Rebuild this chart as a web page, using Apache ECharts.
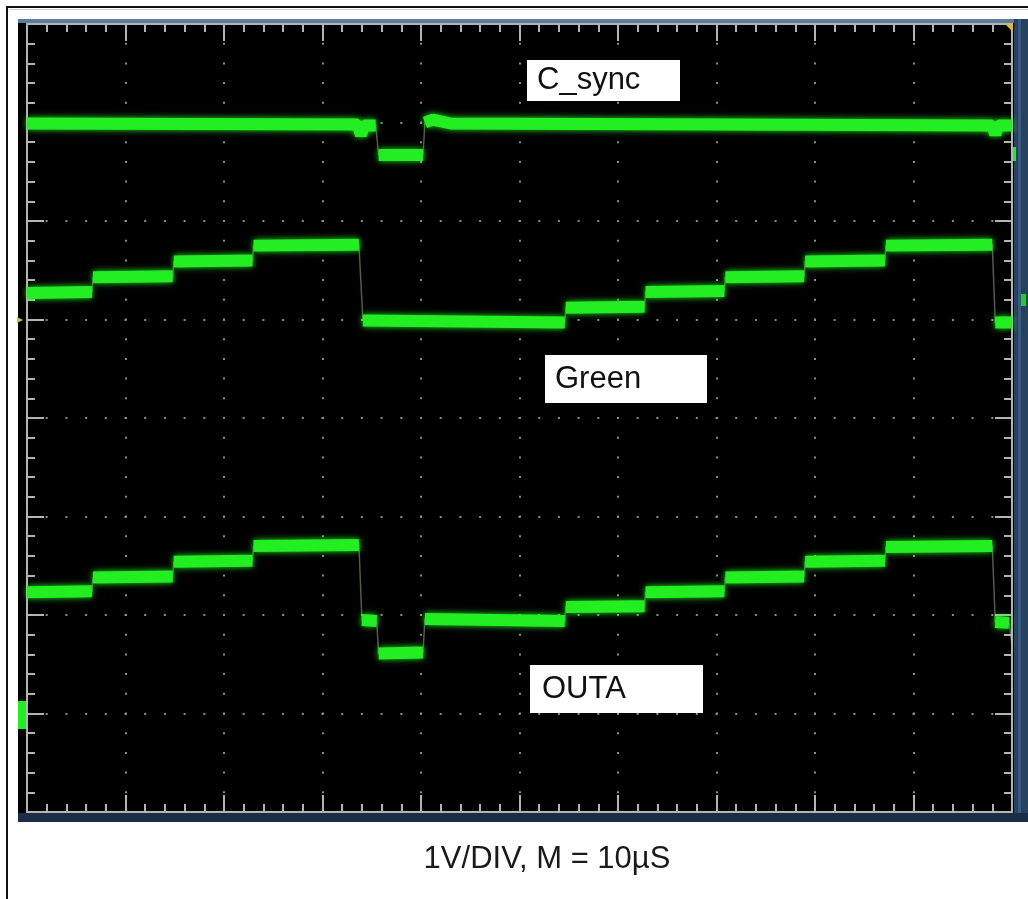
<!DOCTYPE html>
<html><head><meta charset="utf-8">
<script src="https://cdn.jsdelivr.net/npm/echarts@6/dist/echarts.min.js"></script>
<style>html,body{margin:0;padding:0;background:#fff}#c{width:1028px;height:899px}</style>
</head><body><div id="c"></div><script>
// time in µs (10 µs/div, 10 div), voltage in V (1 V/div, 8 div)
const timeRange = [0, 100];
const voltRange = [-4, 4];
const cSyncSegments = [
  [[0,2.99],[33.6,2.98],[33.9,2.87],[34.2,2.97],[35.4,2.97]],
  [[35.7,2.67],[40.2,2.67]],
  [[40.4,3.00],[41.2,3.03],[43.0,2.99],[98.0,2.97],[98.3,2.88],[98.6,2.97],[100,2.97]]
];
const greenSegments = [
  [[0,1.27],[6.6,1.28]],
  [[6.7,1.43],[14.8,1.44]],
  [[14.9,1.59],[22.9,1.60]],
  [[23.0,1.75],[33.7,1.76]],
  [[34.1,0.99],[54.6,0.97]],
  [[54.7,1.12],[62.7,1.13]],
  [[62.8,1.28],[70.8,1.29]],
  [[70.9,1.43],[78.9,1.44]],
  [[79.0,1.59],[87.1,1.60]],
  [[87.2,1.75],[98.0,1.76]],
  [[98.3,0.97],[100,0.97]]
];
const outaSegments = [
  [[0,-1.77],[6.6,-1.76]],
  [[6.7,-1.62],[14.8,-1.61]],
  [[14.9,-1.46],[22.9,-1.45]],
  [[23.0,-1.30],[33.7,-1.29]],
  [[34.0,-2.05],[35.5,-2.06]],
  [[35.7,-2.39],[40.2,-2.38]],
  [[40.4,-2.04],[54.6,-2.06]],
  [[54.7,-1.92],[62.7,-1.91]],
  [[62.8,-1.77],[70.8,-1.76]],
  [[70.9,-1.62],[78.9,-1.61]],
  [[79.0,-1.46],[87.1,-1.45]],
  [[87.2,-1.31],[98.0,-1.30]],
  [[98.3,-2.07],[99.7,-2.08]],
  [[100,-2.30]]
];
const traceNames = ['C_sync', 'Green', 'OUTA'];
const caption = '1V/DIV, M = 10µS';

const chart = echarts.init(document.getElementById('c'), null, {renderer: 'canvas'});
const GREEN = '#22ee22';
const FONT = '31px "Liberation Sans", Arial, sans-serif';
const grid = {left: 27, top: 24, width: 985, height: 788};

function traceSeries(segments, name) {
  const out = [];
  out.push({
    type: 'line', name: name + '_edge', data: segments.flat(), showSymbol: false, symbol: 'none',
    silent: true, animation: false, z: 3,
    lineStyle: {color: 'rgba(170,210,170,0.45)', width: 1.5}
  });
  segments.filter(seg => seg.length > 1).forEach(seg => out.push({
    type: 'line', name: name, data: seg, showSymbol: false, symbol: 'none', silent: true,
    animation: false, z: 4,
    lineStyle: {color: GREEN, width: 12, cap: 'butt', join: 'bevel', shadowColor: 'rgba(40,255,40,0.9)', shadowBlur: 6}
  }));
  return out;
}

const axisCommon = {
  type: 'value', axisLabel: {show: false}, splitArea: {show: false},
  axisLine: {show: true, onZero: false, lineStyle: {color: '#b4b4b4', width: 2}},
  axisTick: {show: true, inside: true, length: 17, lineStyle: {color: '#b4b4b4', width: 2}},
  minorTick: {show: true, splitNumber: 5, length: 8, lineStyle: {color: '#b4b4b4', width: 2}}
};
function xAxis(pos, showSplit) {
  return Object.assign({}, axisCommon, {
    position: pos, min: timeRange[0], max: timeRange[1], interval: 10,
    splitLine: {show: showSplit, lineStyle: {color: '#8c8c8c', width: 2, type: [2, 17.7], dashOffset: 1}}
  });
}
function yAxis(pos, showSplit) {
  return Object.assign({}, axisCommon, {
    position: pos, min: voltRange[0], max: voltRange[1], interval: 1,
    splitLine: {show: showSplit, lineStyle: {color: '#8c8c8c', width: 2, type: [2, 17.7], dashOffset: 1}}
  });
}

function labelBox(text, x, y, w, h, tx) {
  return [
    {type: 'rect', z: 200, zlevel: 1, shape: {x: x, y: y, width: w, height: h}, style: {fill: '#fff'}},
    {type: 'text', z: 201, zlevel: 1, x: tx, y: y + h / 2, style: {text: text, fill: '#111', font: FONT, textVerticalAlign: 'middle', textAlign: 'left'}}
  ];
}

const option = {
  backgroundColor: '#fff',
  animation: false,
  grid: Object.assign({show: true, backgroundColor: '#000', borderWidth: 0}, grid),
  xAxis: [xAxis('bottom', true), xAxis('top', false)],
  yAxis: [yAxis('left', true), yAxis('right', false)],
  series: [].concat(
    traceSeries(cSyncSegments, traceNames[0]),
    traceSeries(greenSegments, traceNames[1]),
    traceSeries(outaSegments, traceNames[2])
  ),
  graphic: [
    {type: 'rect', z: -20, shape: {x: 6, y: 6, width: 1022, height: 2}, style: {fill: '#111'}},
    {type: 'rect', z: -20, shape: {x: 6, y: 6, width: 2, height: 893}, style: {fill: '#111'}},
    {type: 'rect', z: -20, shape: {x: 9, y: 9, width: 1019, height: 1}, style: {fill: '#cfcfcf'}},
    {type: 'rect', z: -10, shape: {x: 18, y: 19, width: 1010, height: 803}, style: {fill: '#000'}},
    {type: 'rect', z: 1, shape: {x: 18, y: 19, width: 1010, height: 4}, style: {fill: '#5d7aa0'}},
    {type: 'rect', z: 1, shape: {x: 1014, y: 19, width: 14, height: 803}, style: {fill: '#27425f'}},
    {type: 'rect', z: 1, shape: {x: 1018, y: 19, width: 3, height: 803}, style: {fill: '#3a5a80'}},
    {type: 'rect', z: 1, shape: {x: 18, y: 813, width: 1010, height: 9}, style: {fill: '#1b2d47'}},
    {type: 'polygon', z: 5, shape: {points: [[1004, 23], [1013, 23], [1013, 32]]}, style: {fill: '#d8b850'}},
    {type: 'polygon', z: 5, shape: {points: [[17, 317], [23, 320], [17, 323]]}, style: {fill: '#d8b850'}},
    {type: 'rect', z: 5, shape: {x: 18, y: 701, width: 8, height: 28}, style: {fill: '#22ee22'}},
    {type: 'rect', z: 5, shape: {x: 1013, y: 147, width: 3, height: 14}, style: {fill: '#22ee22'}},
    {type: 'rect', z: 5, shape: {x: 1021, y: 294, width: 5, height: 12}, style: {fill: '#22cc22'}},
    ...labelBox(traceNames[0], 527, 60, 153, 41, 537),
    ...labelBox(traceNames[1], 545, 355, 162, 48, 555),
    ...labelBox(traceNames[2], 530, 665, 173, 48, 542),
    {type: 'text', z: 200, zlevel: 1, x: 547, y: 859, style: {text: caption, fill: '#1a1a1a', font: FONT, textAlign: 'center', textVerticalAlign: 'middle'}}
  ]
};
chart.setOption(option);
</script></body></html>
